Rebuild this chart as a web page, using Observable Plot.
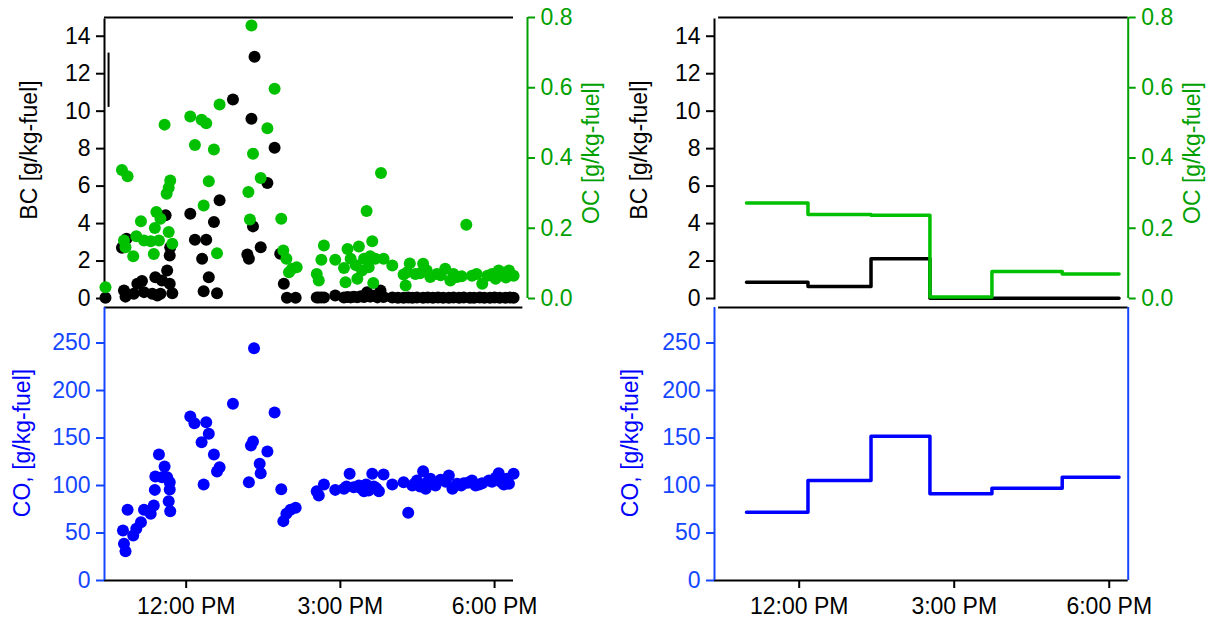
<!DOCTYPE html>
<html>
<head>
<meta charset="utf-8">
<script src="https://cdn.jsdelivr.net/npm/d3@7"></script>
<script src="https://cdn.jsdelivr.net/npm/@observablehq/plot@0.6"></script>
<style>
  html, body { margin: 0; padding: 0; background: #fff; }
  #chart { position: relative; width: 1212px; height: 625px; }
  #chart svg { position: absolute; left: 0; top: 0; }
</style>
</head>
<body>
<div id="chart"></div>
<script>
// ---------- DATA (time in decimal hours of day) ----------
const xTicks = [12, 15, 18];
const xTickLabels = ["12:00 PM", "3:00 PM", "6:00 PM"];
const bcTicks = [0, 2, 4, 6, 8, 10, 12, 14];
const ocTicks = [0, 0.2, 0.4, 0.6, 0.8];
const coTicks = [0, 50, 100, 150, 200, 250];

// Left panels: individual samples [time, value]
const bcPoints = [
  [10.43,0.04],[10.75,2.71],[10.84,3.19],[10.79,0.43],[10.82,0.10],[10.98,0.25],[11.05,0.79],
  [11.14,0.93],[11.18,0.34],[11.34,0.25],[11.40,1.14],[11.44,0.16],[11.50,0.25],[11.53,0.96],
  [11.60,4.44],[11.63,1.50],[11.68,0.79],[11.68,2.30],[11.69,2.74],[11.73,0.28],[12.08,4.53],
  [12.17,3.14],[12.31,2.12],[12.34,0.39],[12.39,3.14],[12.44,1.14],[12.54,4.08],[12.60,0.28],
  [12.65,5.24],[12.91,10.62],[13.19,2.35],[13.22,2.12],[13.27,9.60],[13.30,3.85],[13.33,12.90],
  [13.45,2.74],[13.58,6.16],[13.72,8.05],[13.83,2.39],[13.90,0.79],[13.96,0.04],[14.13,0.04],
  [14.54,0.05],[14.58,0.05],[14.63,0.06],[14.68,0.05],[14.90,0.16],[15.07,0.05],[15.14,0.08],
  [15.20,0.06],[15.26,0.10],[15.33,0.07],[15.40,0.12],[15.46,0.08],[15.52,0.34],[15.58,0.10],
  [15.65,0.15],[15.72,0.06],[15.78,0.43],[15.84,0.08],[16.01,0.05],[16.12,0.04],[16.23,0.04],
  [16.32,0.05],[16.40,0.04],[16.49,0.05],[16.61,0.04],[16.70,0.05],[16.80,0.04],[16.90,0.05],
  [17.00,0.04],[17.11,0.04],[17.20,0.05],[17.31,0.04],[17.40,0.05],[17.52,0.04],[17.60,0.04],
  [17.71,0.05],[17.80,0.04],[17.91,0.04],[18.00,0.05],[18.10,0.04],[18.21,0.04],[18.30,0.05],
  [18.37,0.04]
];
const bcErrorBar = [[10.49, 10.2, 13.1]];

const ocPoints = [
  [10.43,0.032],[10.75,0.366],[10.86,0.348],[10.79,0.165],[10.82,0.146],[10.97,0.120],[11.03,0.177],
  [11.12,0.220],[11.18,0.165],[11.31,0.163],[11.37,0.127],[11.39,0.201],[11.42,0.246],[11.47,0.165],
  [11.50,0.227],[11.58,0.495],[11.62,0.298],[11.66,0.315],[11.69,0.336],[11.66,0.189],[11.73,0.156],
  [12.08,0.518],[12.17,0.437],[12.30,0.509],[12.39,0.499],[12.34,0.265],[12.44,0.334],[12.54,0.424],
  [12.60,0.129],[12.65,0.552],[13.21,0.303],[13.24,0.225],[13.27,0.777],[13.30,0.412],[13.45,0.343],
  [13.58,0.485],[13.72,0.597],[13.85,0.227],[13.89,0.137],[13.95,0.113],[14.00,0.075],[14.06,0.085],
  [14.15,0.089],[14.54,0.070],[14.58,0.051],[14.63,0.110],[14.68,0.151],[14.90,0.110],[15.07,0.087],
  [15.10,0.046],[15.14,0.141],[15.20,0.113],[15.33,0.056],[15.36,0.148],[15.46,0.113],[15.51,0.249],
  [15.55,0.089],[15.62,0.163],[15.64,0.044],[15.68,0.113],[15.79,0.357],[15.84,0.113],[16.01,0.094],
  [16.23,0.068],[16.27,0.037],[16.35,0.100],[16.46,0.070],[16.61,0.099],[16.75,0.061],[16.88,0.070],
  [17.04,0.085],[17.14,0.051],[17.27,0.061],[17.45,0.210],[17.56,0.065],[17.76,0.042],[17.86,0.065],
  [18.02,0.056],[18.08,0.080],[18.28,0.080],[18.37,0.065],
  [15.30,0.095],[15.42,0.080],[15.58,0.120],[16.30,0.075],[16.55,0.072],[16.68,0.080],[16.95,0.066],
  [17.20,0.070],[17.36,0.063],[17.65,0.070],[17.95,0.070],[18.15,0.072],[18.22,0.060]
];

const coPoints = [
  [10.77,52.6],[10.79,38.6],[10.82,30.9],[10.86,74.4],[10.97,47.4],[11.03,54.4],[11.12,61.4],
  [11.18,74.4],[11.31,70.2],[11.37,78.9],[11.39,95.4],[11.40,109.5],[11.47,132.6],[11.53,108.8],
  [11.58,120.0],[11.63,108.8],[11.68,103.5],[11.68,95.8],[11.66,83.5],[11.69,73.0],[12.08,172.6],
  [12.16,165.6],[12.39,166.7],[12.44,154.4],[12.30,145.6],[12.54,132.6],[12.65,119.3],[12.60,114.7],
  [12.34,101.0],[12.91,186.0],[13.32,244.6],[13.30,146.3],[13.26,142.0],[13.22,103.5],[13.43,122.8],
  [13.45,113.0],[13.58,135.8],[13.72,176.8],[13.85,96.1],[13.89,62.5],[13.95,70.2],[14.03,74.4],
  [14.13,76.5],[14.54,94.0],[14.58,89.5],[14.68,101.0],[14.90,95.4],[15.07,96.5],[15.18,112.3],
  [15.26,98.2],[15.36,100.0],[15.46,94.0],[15.55,94.7],[15.62,112.3],[15.65,98.9],[15.75,94.0],
  [15.84,111.6],[16.01,101.0],[16.23,103.5],[16.32,71.2],[16.40,100.0],[16.49,105.3],[16.61,115.0],
  [16.66,96.5],[16.75,107.0],[16.85,100.0],[16.95,106.0],[17.11,110.5],[17.18,96.5],[17.27,101.8],
  [17.40,102.4],[17.56,105.3],[17.63,100.0],[17.76,102.4],[17.89,105.3],[18.02,108.1],[18.08,113.0],
  [18.18,101.0],[18.28,101.8],[18.37,112.3],
  [15.12,99.0],[15.40,97.0],[15.50,101.0],[15.70,97.0],[16.45,102.0],[16.55,99.0],[16.70,104.0],
  [16.80,103.0],[17.05,104.0],[17.35,100.0],[17.48,103.0],[17.70,101.0],[17.95,104.0],[18.12,104.0],
  [18.24,107.0]
];

// Right panels: averaged step series
const stepStarts = [10.98, 12.17, 13.39, 14.53, 15.73, 17.09];
const stepEnd = 18.19;
const bcStep = [0.87, 0.64, 2.12, 0.01, 0.01, 0.01];
const ocStep = [0.272, 0.239, 0.237, 0.004, 0.077, 0.070];
const coStep = [71.9, 105.3, 151.9, 91.2, 97.2, 108.8];

// ---------- STYLE ----------
const W = 1212, H = 625;
const FONT = "'Liberation Sans', Arial, Helvetica, sans-serif";
const FS = 23;
const R = 6;
const GREEN_AXIS = "#00a000", GREEN_DOT = "#00c000", BLUE_AXIS = "#1446ff", BLUE = "#0000ff";
const leftX = {domain: [10.411, 18.368], ml: 104, mr: W - 513};
const rightX = {domain: [10.361, 18.367], ml: 714, mr: W - 1127.7};
const topY = {mt: 17, mb: H - 298};
const botY = {mt: 307, mb: H - 580};

const stepData = (vals) => stepStarts.map((t, i) => [t, vals[i]]).concat([[stepEnd, vals[vals.length - 1]]]);
const xy = {x: d => d[0], y: d => d[1]};

function base(px, py, ydomain, marks) {
  const svg = Plot.plot({
    width: W, height: H,
    marginLeft: px.ml, marginRight: px.mr, marginTop: py.mt, marginBottom: py.mb,
    x: {domain: px.domain, axis: null},
    y: {domain: ydomain, axis: null},
    style: {fontFamily: FONT, fontSize: FS + "px", background: "transparent", overflow: "visible"},
    marks
  });
  document.getElementById("chart").appendChild(svg);
}

function yLabel(text, dx, color, dy = 0) {
  return Plot.text([text], {frameAnchor: "left", rotate: -90, textAnchor: "middle", lineAnchor: "middle",
    dx, dy, fill: color, fontSize: FS, fontFamily: FONT});
}
function yLabelRight(text, dx, color, dy = 0) {
  return Plot.text([text], {frameAnchor: "right", rotate: -90, textAnchor: "middle", lineAnchor: "middle",
    dx, dy, fill: color, fontSize: FS, fontFamily: FONT});
}
const xAxis = (px) => [
  Plot.axisX({ticks: xTicks, tickFormat: d => xTickLabels[xTicks.indexOf(d)], tickSize: 8, tickPadding: 9,
    strokeWidth: 2, color: "black", fontSize: FS}),
  Plot.ruleY([0], {stroke: "black", strokeWidth: 2})
];

// ---------- TOP-LEFT: BC dots ----------
base(leftX, topY, [0, 15], [
  Plot.ruleY([15], {stroke: "black", strokeWidth: 2}),
  Plot.ruleX([leftX.domain[0]], {stroke: "black", strokeWidth: 2, y1: 0, y2: 15, dy: 1.5}),
  Plot.axisY({anchor: "left", ticks: bcTicks, tickSize: 8, tickPadding: 6, strokeWidth: 2, color: "black", fontSize: FS}),
  yLabel("BC [g/kg-fuel]", -75, "black", -8),
  Plot.ruleX(bcErrorBar, {x: d => d[0], y1: d => d[1], y2: d => d[2], stroke: "black", strokeWidth: 2}),
  Plot.dot(bcPoints, {...xy, r: R, fill: "black"})
]);
// ---------- TOP-LEFT: OC dots (right axis) ----------
base(leftX, topY, [0, 0.8], [
  Plot.ruleX([leftX.domain[1]], {dx: 14, stroke: GREEN_AXIS, strokeWidth: 2}),
  Plot.axisY({anchor: "right", ticks: ocTicks, tickFormat: d3.format(".1f"), tickSize: 7, tickPadding: 6, dx: 14,
    strokeWidth: 2, color: GREEN_AXIS, fontSize: FS}),
  yLabelRight("OC [g/kg-fuel]", 78, GREEN_AXIS, -5),
  Plot.dot(ocPoints, {...xy, r: R, fill: GREEN_DOT})
]);
// ---------- BOTTOM-LEFT: CO dots ----------
base(leftX, botY, [0, 287.4], [
  Plot.ruleY([287.4], {stroke: "black", strokeWidth: 2, x1: leftX.domain[0], x2: 18.55}),
  ...xAxis(leftX),
  Plot.ruleX([leftX.domain[0]], {stroke: BLUE_AXIS, strokeWidth: 2}),
  Plot.axisY({anchor: "left", ticks: coTicks, tickSize: 8, tickPadding: 6, strokeWidth: 2, color: BLUE_AXIS, fontSize: FS}),
  yLabel("CO, [g/kg-fuel]", -82, BLUE, -1),
  Plot.dot(coPoints, {...xy, r: R, fill: BLUE})
]);

// ---------- TOP-RIGHT: BC step ----------
base(rightX, topY, [0, 15], [
  Plot.ruleY([15], {stroke: "black", strokeWidth: 2, x1: 10.44, x2: rightX.domain[1]}),
  Plot.ruleX([rightX.domain[0]], {stroke: "black", strokeWidth: 2, y1: 0, y2: 15, dy: 1.5}),
  Plot.axisY({anchor: "left", ticks: bcTicks, tickSize: 8, tickPadding: 6, strokeWidth: 2, color: "black", fontSize: FS}),
  yLabel("BC [g/kg-fuel]", -75, "black", -8),
  Plot.line(stepData(bcStep), {...xy, curve: "step-after", stroke: "black", strokeWidth: 3.5})
]);
// ---------- TOP-RIGHT: OC step ----------
base(rightX, topY, [0, 0.8], [
  Plot.ruleX([rightX.domain[1]], {stroke: GREEN_AXIS, strokeWidth: 2}),
  Plot.axisY({anchor: "right", ticks: ocTicks, tickFormat: d3.format(".1f"), tickSize: 7, tickPadding: 6,
    strokeWidth: 2, color: GREEN_AXIS, fontSize: FS}),
  yLabelRight("OC [g/kg-fuel]", 64, GREEN_AXIS, -5),
  Plot.line(stepData(ocStep), {...xy, curve: "step-after", stroke: GREEN_DOT, strokeWidth: 3.5})
]);
// ---------- BOTTOM-RIGHT: CO step ----------
base(rightX, botY, [0, 287.4], [
  Plot.ruleY([287.4], {stroke: "black", strokeWidth: 2, x1: 10.44, x2: rightX.domain[1]}),
  ...xAxis(rightX),
  Plot.ruleX([rightX.domain[0]], {stroke: BLUE_AXIS, strokeWidth: 2}),
  Plot.ruleX([rightX.domain[1]], {stroke: BLUE_AXIS, strokeWidth: 2}),
  Plot.axisY({anchor: "left", ticks: coTicks, tickSize: 8, tickPadding: 6, strokeWidth: 2, color: BLUE_AXIS, fontSize: FS}),
  yLabel("CO, [g/kg-fuel]", -84, BLUE, -1),
  Plot.line(stepData(coStep), {...xy, curve: "step-after", stroke: BLUE, strokeWidth: 3.5})
]);
</script>
</body>
</html>
